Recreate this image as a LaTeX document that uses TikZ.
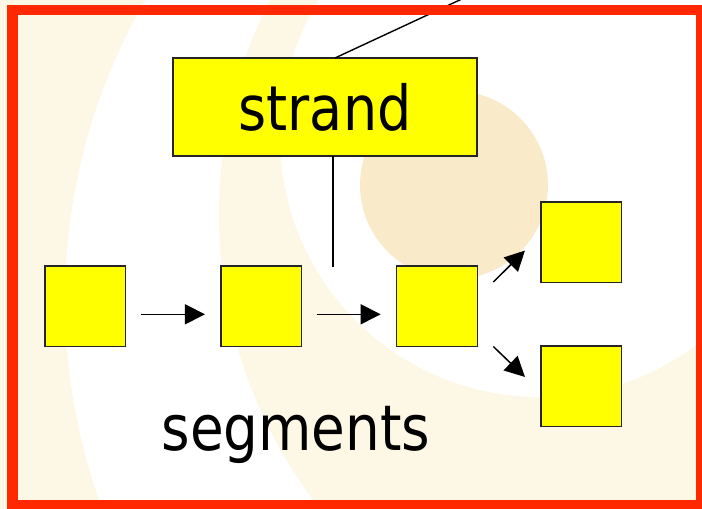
\documentclass[tikz,border=0pt]{standalone}
\usepackage{fontspec}
\newfontfamily\dvfont[FakeStretch=0.87]{DejaVu Sans}
\usetikzlibrary{arrows.meta}
\definecolor{pale}{RGB}{253,248,230}
\definecolor{discc}{RGB}{249,235,202}
\definecolor{framered}{RGB}{255,40,0}
\definecolor{boxyellow}{RGB}{255,255,0}
\tikzset{
  seg/.style={draw=black!85, fill=boxyellow, line width=1.5pt, minimum width=80.7pt, minimum height=80.5pt, inner sep=0pt, outer sep=0pt},
  strandbox/.style={draw=black!85, fill=boxyellow, line width=1.5pt, minimum width=304pt, minimum height=98pt, inner sep=0pt, outer sep=0pt, font=\dvfont\fontsize{62}{70}\selectfont},
  lbl/.style={font=\dvfont\fontsize{63}{70}\selectfont, inner sep=0pt},
  conn/.style={line width=1.4pt, black},
  arr/.style={line width=1.5pt, black, -{Triangle[length=20pt,width=20pt]}}
}
\begin{document}
\begin{tikzpicture}[x=1pt,y=-1pt]
\useasboundingbox (0,0) rectangle (702,509);
% background
\fill[white] (0,0) rectangle (702,509);
\begin{scope}
\clip (0,0) rectangle (702,509);
\fill[pale, even odd rule] (-10,-10) rectangle (712,519) (665,300) circle[radius=600];
\fill[pale] (697,215) circle[radius=478];
\fill[white] (540,137) circle[radius=260];
\fill[discc] (454,185) circle[radius=94];
\end{scope}
% nodes
\node[strandbox] (strand) at (325,107) {strand};
\node[seg] (s1) at (85.3,306.3) {};
\node[seg] (s2) at (261.3,306.3) {};
\node[seg] (s3) at (437,306.3) {};
\node[seg] (s4) at (581.3,242.3) {};
\node[seg] (s5) at (581.3,386.2) {};
\node[lbl, anchor=base] (segl) at (296,450) {segments};
% connectors
\coordinate (tend) at (464,-2);
\coordinate (vend) at (333,267);
\draw[conn] ([xshift=10pt]strand.north) -- (tend);
\draw[conn] (strand.south -| vend) -- (vend);
\draw[arr, shorten <=15pt, shorten >=16pt] ([yshift=-8pt]s1.east) -- ([yshift=-8pt]s2.west);
\draw[arr, shorten <=15pt, shorten >=16pt] ([yshift=-8pt]s2.east) -- ([yshift=-8pt]s3.west);
\coordinate (a3s) at ([shift={(16,16)}]s3.north east);
\coordinate (a3e) at ([shift={(-16,-32)}]s4.south west);
\coordinate (a4s) at ([shift={(16,0)}]s3.south east);
\coordinate (a4e) at ([shift={(-16,31)}]s5.north west);
\draw[arr] (a3s) -- (a3e);
\draw[arr] (a4s) -- (a4e);
% frame
\draw[framered, line width=10.5pt] (12.5,10) rectangle (701,505);
\end{tikzpicture}
\end{document}
